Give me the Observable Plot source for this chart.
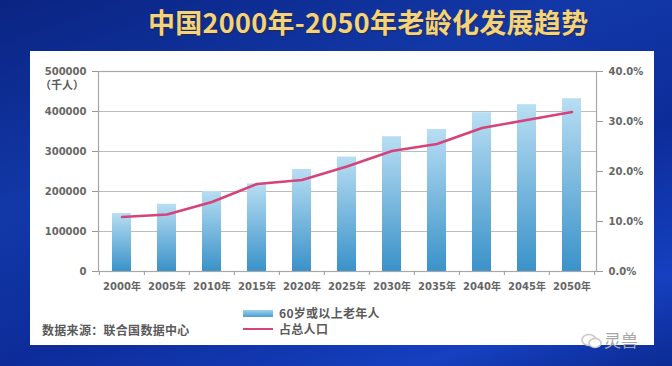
<!DOCTYPE html>
<html>
<head>
<meta charset="utf-8">
<script src="https://cdn.jsdelivr.net/npm/d3@7"></script>
<script src="https://cdn.jsdelivr.net/npm/@observablehq/plot@0.6"></script>
<style>
  html, body { margin: 0; padding: 0; }
  body {
    width: 672px; height: 366px; overflow: hidden; position: relative;
    background: linear-gradient(160deg, #0a2482 0%, #1238a8 35%, #0d2c9a 60%, #1540c0 85%, #0c2a92 100%);
    font-family: "Noto Sans CJK SC", "DejaVu Sans", sans-serif;
  }
  #title {
    position: absolute; left: 148px; top: 2px;
    font-size: 27px; font-weight: bold; color: #f5d37c; letter-spacing: 0.3px;
    text-shadow: 1px 1px 1px rgba(60,40,0,0.55);
    white-space: nowrap;
  }
  #panel {
    position: absolute; left: 30px; top: 51px; width: 624px; height: 294px;
    background: #ffffff;
  }
  #chart { position: absolute; left: 0; top: 0; }
  .lg { position: absolute; font-size: 12px; font-weight: bold; color: #5a5a5a; letter-spacing: 0.3px; white-space: nowrap; line-height: 14px; }
  .sw { position: absolute; }
  #wm { position: absolute; left: 580px; top: 327px; color: #a8a8a8; font-size: 17px; white-space: nowrap; }
</style>
</head>
<body>
<svg width="0" height="0" style="position:absolute">
  <defs>
    <linearGradient id="barGrad" x1="0" y1="0" x2="0" y2="1">
      <stop offset="0" stop-color="#b8def3"/>
      <stop offset="1" stop-color="#3a92c9"/>
    </linearGradient>
  </defs>
</svg>
<div id="title">中国2000年-2050年老龄化发展趋势</div>
<div id="panel">
  <div id="chart"></div>
  <div class="lg" style="left:10px; top:28px; font-size:11px; line-height:11px; letter-spacing:0;">（千人）</div>
  <div class="sw" style="left:213px; top:259px; width:30px; height:7px; background:linear-gradient(#9fd0ee,#4a9fd2);"></div>
  <div class="lg" style="left:249px; top:255px;">60岁或以上老年人</div>
  <div class="sw" style="left:213px; top:277px; width:30px; height:2px; background:#d6437a;"></div>
  <div class="lg" style="left:249px; top:271px;">占总人口</div>
  <div class="lg" style="left:12px; top:272px;">数据来源：联合国数据中心</div>
</div>
<div id="wm"><svg width="24" height="18" style="vertical-align:-3px"><ellipse cx="9" cy="8" rx="7" ry="5.5" fill="none" stroke="#c8c8c8" stroke-width="1.5"/><ellipse cx="15" cy="11" rx="6" ry="4.5" fill="#ffffff" stroke="#c8c8c8" stroke-width="1.5"/></svg>灵兽</div>
<script>
const years = ["2000年","2005年","2010年","2015年","2020年","2025年","2030年","2035年","2040年","2045年","2050年"];
const elderly = [145000,168000,200000,219000,255000,286000,337000,355000,397000,417000,432000];
const share = [10.9,11.4,13.9,17.5,18.3,21.0,24.1,25.5,28.7,30.3,31.9];
const leftTicks = [0,100000,200000,300000,400000,500000];
const rightTicks = [0,10,20,30,40];

const yMax = 500000, pMax = 40;
const k = yMax / pMax; // maps percent onto the left axis scale

const data = years.map((y, i) => ({year: y, value: elderly[i], pct: share[i]}));

const W = 624, H = 245, mL = 68, mR = 58, mT = 20, mB = 25;
const step = (W - mL - mR) / years.length;

const chart = Plot.plot({
  width: W, height: H,
  marginLeft: mL, marginRight: mR, marginTop: mT, marginBottom: mB,
  style: {fontFamily: "'DejaVu Sans', 'Noto Sans CJK SC', sans-serif", fontSize: "10px", fontWeight: "bold", color: "#666", background: "transparent", overflow: "visible"},
  x: {domain: years, paddingInner: 0.57, paddingOuter: 0.285},
  y: {domain: [0, yMax]},
  marks: [
    Plot.ruleY(leftTicks.slice(1), {stroke: "#bcbcbc", strokeWidth: 1.2}),
    Plot.barY(data, {x: "year", y: "value", fill: "url(#barGrad)"}),
    Plot.frame({stroke: "#a8a8a8", strokeWidth: 1.2}),
    Plot.ruleX(years, {x: d => d, dx: -step / 2, insetTop: H - mT - mB, insetBottom: -4, stroke: "#999"}),
    Plot.ruleX(years.slice(-1), {x: d => d, dx: step / 2, insetTop: H - mT - mB, insetBottom: -4, stroke: "#999"}),
    Plot.line(data, {x: "year", y: d => d.pct * k, stroke: "#d6437a", strokeWidth: 2.5, strokeLinejoin: "round"}),
    Plot.axisY(leftTicks, {anchor: "left", tickSize: 6, tickPadding: 6, tickFormat: d => String(d), label: null, stroke: "#999", fill: "#666"}),
    Plot.axisY(rightTicks.map(p => p * k), {anchor: "right", tickSize: 6, tickPadding: 6, tickFormat: d => (d / k).toFixed(1) + "%", label: null, stroke: "#999", fill: "#666"}),
    Plot.axisX({tickSize: 0, tickPadding: 11, label: null, fill: "#666", style: {letterSpacing: "0.4px"}})
  ]
});
document.getElementById("chart").appendChild(chart);
</script>
</body>
</html>
